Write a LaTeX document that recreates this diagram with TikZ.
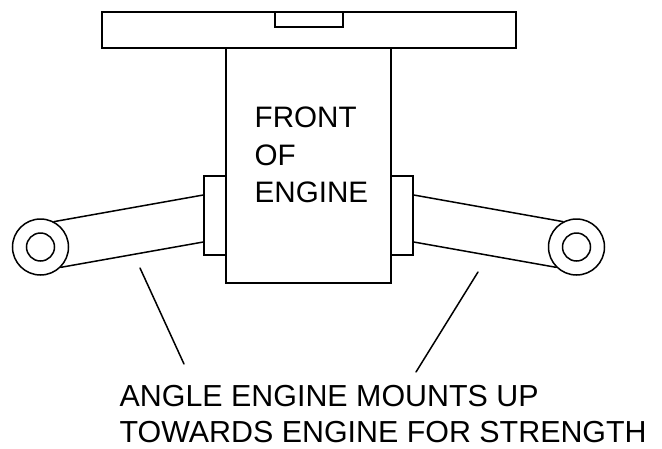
\documentclass[tikz,border=0pt]{standalone}
\usepackage{fontspec}
\setmainfont{Liberation Sans}
\tikzset{
  part/.style={draw=black,line width=1.5pt,fill=white,inner sep=0pt,minimum width=0pt,minimum height=0pt,rectangle},
  ring/.style={draw=black,line width=1.5pt,circle,inner sep=0pt},
  lab/.style={anchor=base west,inner sep=0pt,font=\fontsize{30.4}{30.4}\selectfont,text=black},
  labin/.style={lab,font=\fontsize{29.6}{29.6}\selectfont},
  conn/.style={draw=black,line width=1.5pt,line cap=round}
}
\begin{document}
\begin{tikzpicture}[x=1pt,y=-1pt]
\useasboundingbox (0,0) rectangle (662,448);
% top plate
\node[part,minimum width=414pt,minimum height=36pt] (plate) at (309,30) {};
\node[part,minimum width=68pt,minimum height=15pt] (slot) at (309,19.5) {};
% engine
\node[part,minimum width=165pt,minimum height=235pt] (engine) at (308.5,165.5) {};
% mounts
\node[part,minimum width=22pt,minimum height=79pt] (mountL) at (215,215.5) {};
\node[part,minimum width=22pt,minimum height=79pt] (mountR) at (402,215.5) {};
% bushes
\node[ring,minimum size=56pt] (bushL) at (40.5,247) {};
\node[ring,minimum size=28pt] (holeL) at (40.5,247) {};
\node[ring,minimum size=56pt] (bushR) at (576.5,247) {};
\node[ring,minimum size=28pt] (holeR) at (576.5,247) {};
% arms
\draw[conn] (bushL.62) -- (mountL.west |- 0,195);
\draw[conn] (bushL.-45) -- (mountL.west |- 0,242);
\draw[conn] (bushR.118) -- (mountR.east |- 0,195);
\draw[conn] (bushR.225) -- (mountR.east |- 0,242);
% pointers
\coordinate (pL1) at (140,268);
\coordinate (pL2) at (184,364);
\coordinate (pR1) at (478,272);
\coordinate (pR2) at (416,372);
\draw[conn] (pL1) -- (pL2);
\draw[conn] (pR1) -- (pR2);
% text
\node[labin] (t1) at (254.5,127.5) {FRONT};
\node[labin] (t2) at (254.5,165) {OF};
\node[labin] (t3) at (254.5,202.7) {ENGINE};
\node[lab] (t4) at (119.5,406) {ANGLE ENGINE MOUNTS UP};
\node[lab] (t5) at (119.5,442.5) {TOWARDS ENGINE FOR STRENGTH};
\end{tikzpicture}
\end{document}
